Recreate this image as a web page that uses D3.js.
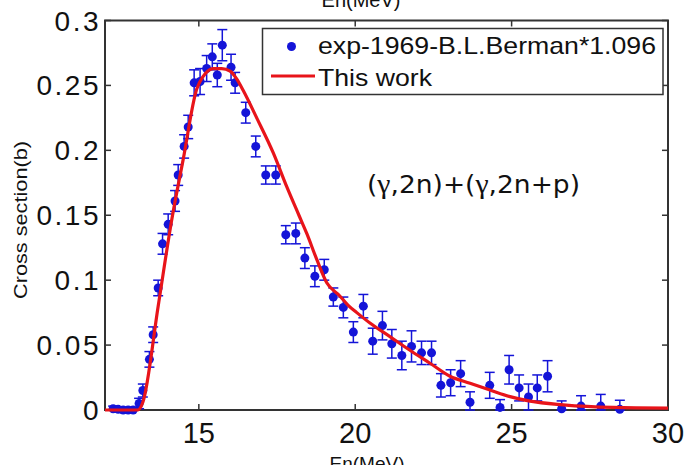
<!DOCTYPE html>
<html>
<head>
<meta charset="utf-8">
<script src="https://cdn.jsdelivr.net/npm/d3@7"></script>
<style>
  body { margin: 0; background: #fff; }
  text { font-family: "Liberation Sans", Arial, sans-serif; fill: #111; }
</style>
</head>
<body>
<div id="chart"></div>
<script>
// experimental points (energy, cross section, error)
var expE = [12.26, 12.42, 12.58, 12.74, 12.90, 13.09, 13.21, 13.42, 13.54, 13.70,
            13.84, 14.02, 14.24, 14.34, 14.53, 14.66, 14.85, 15.04, 15.25, 15.43,
            15.59, 15.75, 16.03, 16.16, 16.50, 16.82, 17.14, 17.46, 17.78, 18.10,
            18.39, 18.71, 19.01, 19.30, 19.62, 19.94, 20.26, 20.56, 20.87, 21.17,
            21.49, 21.80, 22.12, 22.44, 22.74, 23.05, 23.37, 23.67, 24.30, 24.63,
            24.92, 25.24, 25.54, 25.82, 26.15, 26.60, 27.22, 27.85, 28.46];
var expV = [0.001, 0.0005, 0, 0, 0, 0.005, 0.015, 0.039, 0.058, 0.094,
            0.128, 0.143, 0.161, 0.181, 0.203, 0.218, 0.252, 0.253, 0.263, 0.272,
            0.258, 0.281, 0.264, 0.252, 0.229, 0.203, 0.181, 0.181, 0.135, 0.136,
            0.117, 0.103, 0.108, 0.087, 0.079, 0.060, 0.080, 0.053, 0.065, 0.051,
            0.042, 0.049, 0.044, 0.044, 0.019, 0.021, 0.028, 0.006, 0.019, 0.002,
            0.031, 0.017, 0.010, 0.017, 0.026, 0.001, 0.003, 0.003, 0.0005];
var expErr = [0.002, 0.002, 0.002, 0.002, 0.002, 0.004, 0.005, 0.006, 0.006, 0.006,
              0.008, 0.008, 0.008, 0.008, 0.009, 0.009, 0.010, 0.010, 0.010, 0.010,
              0.009, 0.012, 0.010, 0.008, 0.008, 0.008, 0.007, 0.007, 0.007, 0.008,
              0.008, 0.008, 0.008, 0.007, 0.008, 0.008, 0.009, 0.010, 0.011, 0.011,
              0.011, 0.012, 0.009, 0.009, 0.009, 0.010, 0.010, 0.008, 0.010, 0.006,
              0.011, 0.010, 0.010, 0.010, 0.012, 0.006, 0.008, 0.009, 0.007];

// calculated curve ("This work")
var calcE = [12.0, 13.05, 13.21, 13.70, 14.13, 14.50, 14.93, 15.14, 15.46, 15.73,
             16.00, 16.21, 16.42, 16.85, 17.38, 17.81, 18.20, 18.45, 18.77, 19.09,
             19.50, 19.80, 20.05, 20.47, 21.11, 21.75, 22.39, 23.03, 23.67, 24.31,
             24.95, 25.59, 26.65, 28.25, 30.0];
var calcV = [0, 0, 0.006, 0.080, 0.146, 0.193, 0.247, 0.257, 0.263, 0.263,
             0.261, 0.255, 0.246, 0.225, 0.198, 0.172, 0.150, 0.136, 0.116, 0.098,
             0.088, 0.080, 0.075, 0.067, 0.0565, 0.046, 0.036, 0.026, 0.0206, 0.0154,
             0.0103, 0.0068, 0.004, 0.002, 0.0015];

var xTicks = [15, 20, 25, 30];
var yTicks = [0, 0.05, 0.1, 0.15, 0.2, 0.25, 0.3];
var yTickLabels = ["0", "0.05", "0.1", "0.15", "0.2", "0.25", "0.3"];

function drawChart() {
    var width = 690, height = 465;
    var pLeft = 105, pRight = 668, pTop = 20.5, pBottom = 410;
    var blue = "#1414d8", red = "#e8141a", axisCol = "#333";

    var svg = d3.select("#chart").append("svg")
        .attr("width", width)
        .attr("height", height);

    var x = d3.scaleLinear().domain([12, 30]).range([pLeft, pRight]);
    var y = d3.scaleLinear().domain([0, 0.3]).range([pBottom, pTop]);

    // Box frame
    svg.append("rect")
        .attr("x", pLeft).attr("y", pTop)
        .attr("width", pRight - pLeft).attr("height", pBottom - pTop)
        .style("fill", "none").style("stroke", axisCol).style("stroke-width", 2);

    // inward ticks on four sides
    var tl = 6;
    xTicks.forEach(function (t) {
        svg.append("line").attr("x1", x(t)).attr("x2", x(t)).attr("y1", pBottom).attr("y2", pBottom - tl)
            .style("stroke", axisCol).style("stroke-width", 1.5);
        svg.append("line").attr("x1", x(t)).attr("x2", x(t)).attr("y1", pTop).attr("y2", pTop + tl)
            .style("stroke", axisCol).style("stroke-width", 1.5);
        svg.append("text").attr("x", x(t)).attr("y", 443)
            .attr("text-anchor", "middle").style("font-size", "29px").text(t);
    });
    yTicks.forEach(function (t, i) {
        svg.append("line").attr("x1", pLeft).attr("x2", pLeft + tl).attr("y1", y(t)).attr("y2", y(t))
            .style("stroke", axisCol).style("stroke-width", 1.5);
        svg.append("line").attr("x1", pRight).attr("x2", pRight - tl).attr("y1", y(t)).attr("y2", y(t))
            .style("stroke", axisCol).style("stroke-width", 1.5);
        svg.append("text").attr("x", 101).attr("y", y(t) + 10)
            .attr("text-anchor", "end").style("font-size", "28px")
            .style("letter-spacing", "2.5px").text(yTickLabels[i]);
    });

    // Axis titles (both cut by the page edge, like the original)
    svg.append("text").attr("x", 367).attr("y", 470)
        .attr("text-anchor", "middle").style("font-size", "19px").text("En(MeV)");
    svg.append("text").attr("x", 361).attr("y", 7)
        .attr("text-anchor", "middle").style("font-size", "20px").text("En(MeV)");
    svg.append("text")
        .attr("transform", "translate(27,220) rotate(-90)")
        .attr("text-anchor", "middle")
        .attr("textLength", 158).attr("lengthAdjust", "spacingAndGlyphs")
        .style("font-size", "19px").text("Cross section(b)");

    // Experimental points with error bars
    var pts = expE.map(function (e, i) { return { e: e, v: expV[i], err: expErr[i] }; });
    var gExp = svg.append("g");
    var cap = 5;
    pts.forEach(function (d) {
        var cx = x(d.e), y1 = y(d.v + d.err), y2 = y(Math.max(0, d.v - d.err));
        gExp.append("line").attr("x1", cx).attr("x2", cx).attr("y1", y1).attr("y2", y2)
            .style("stroke", blue).style("stroke-width", 1.5);
        gExp.append("line").attr("x1", cx - cap).attr("x2", cx + cap).attr("y1", y1).attr("y2", y1)
            .style("stroke", blue).style("stroke-width", 1.5);
        gExp.append("line").attr("x1", cx - cap).attr("x2", cx + cap).attr("y1", y2).attr("y2", y2)
            .style("stroke", blue).style("stroke-width", 1.5);
    });
    gExp.selectAll("circle")
        .data(pts)
        .enter()
        .append("circle")
        .attr("cx", function (d) { return x(d.e); })
        .attr("cy", function (d) { return y(d.v); })
        .attr("r", 4.5)
        .style("fill", blue);

    // Calculated curve
    var line = d3.line()
        .x(function (d, i) { return x(calcE[i]); })
        .y(function (d) { return y(d); })
        .curve(d3.curveMonotoneX);
    svg.append("path")
        .attr("d", line(calcV))
        .style("fill", "none").style("stroke", red).style("stroke-width", 3.2)
        .style("stroke-linejoin", "round");

    // Reaction label
    var lab = svg.append("text").attr("x", 367).attr("y", 193)
        .attr("textLength", 213).attr("lengthAdjust", "spacingAndGlyphs")
        .style("font-family", "'DejaVu Sans', sans-serif").style("font-size", "24px");
    lab.append("tspan").text("(");
    lab.append("tspan").style("font-family", "'Liberation Serif', serif").style("font-size", "27px").text("γ");
    lab.append("tspan").text(",2n)+(");
    lab.append("tspan").style("font-family", "'Liberation Serif', serif").style("font-size", "27px").text("γ");
    lab.append("tspan").text(",2n+p)");

    // Legend
    svg.append("rect")
        .attr("x", 262.5).attr("y", 28.5).attr("width", 400.5).attr("height", 66)
        .style("fill", "#fff").style("stroke", axisCol).style("stroke-width", 1.5);
    svg.append("circle").attr("cx", 291.5).attr("cy", 46.5).attr("r", 4.5).style("fill", blue);
    svg.append("text").attr("x", 318).attr("y", 54)
        .attr("textLength", 338).attr("lengthAdjust", "spacingAndGlyphs")
        .style("font-size", "24px").text("exp-1969-B.L.Berman*1.096");
    svg.append("line").attr("x1", 271).attr("x2", 315).attr("y1", 76).attr("y2", 76)
        .style("stroke", red).style("stroke-width", 3.2);
    svg.append("text").attr("x", 318).attr("y", 86)
        .attr("textLength", 114).attr("lengthAdjust", "spacingAndGlyphs")
        .style("font-size", "24px").text("This work");
}

drawChart();
</script>
</body>
</html>
